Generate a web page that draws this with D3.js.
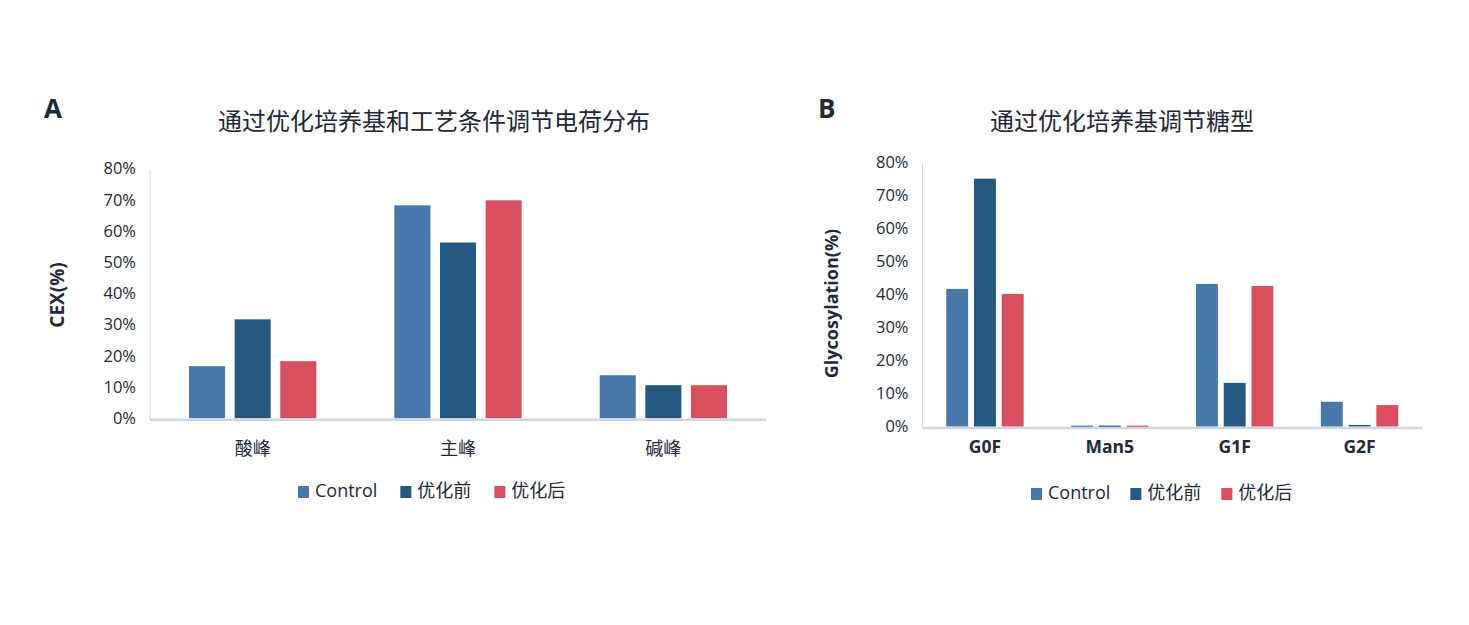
<!DOCTYPE html>
<html>
<head>
<meta charset="utf-8">
<script src="https://cdn.jsdelivr.net/npm/d3@7"></script>
<style>
  body { margin: 0; background: #fff; }
  text { font-family: "Open Sans", "Noto Sans CJK SC", sans-serif; fill: #232838; }
</style>
</head>
<body>
<div id="chart-area"></div>
<script>
// SERIES + COLOURS
var seriesNames = ["Control", "优化前", "优化后"];
var seriesColors = ["#4678aa", "#245881", "#d84f5f"];

// PANEL A - CHARGE VARIANTS (CEX %)
var chargeCategories = ["酸峰", "主峰", "碱峰"];
var chargeControl = [16.7, 68.2, 13.8];
var chargeBefore = [31.7, 56.3, 10.6];
var chargeAfter = [18.3, 69.8, 10.6];

// PANEL B - GLYCOSYLATION %
var glycanCategories = ["G0F", "Man5", "G1F", "G2F"];
var glycanControl = [41.6, 0.3, 43.1, 7.5];
var glycanBefore = [74.9, 0.3, 13.2, 0.5];
var glycanAfter = [40.1, 0.3, 42.5, 6.5];

var yTicks = [0, 10, 20, 30, 40, 50, 60, 70, 80];

var svg = d3.select("#chart-area")
    .append("svg")
    .attr("width", 1469)
    .attr("height", 625);

function drawPanel(opt) {
    var g = svg.append("g");

    var x = d3.scaleBand()
        .domain(opt.categories)
        .range([opt.left, opt.right])
        .padding(0);

    var groupW = x.bandwidth() * 0.62;
    var xs = d3.scaleBand()
        .domain(seriesNames)
        .range([-groupW / 2, groupW / 2])
        .paddingInner(0.21)
        .paddingOuter(0);

    var y = d3.scaleLinear()
        .domain([0, 80])
        .range([opt.bottom, opt.top]);

    // Y AXIS (labels only)
    var yAxis = g.append("g")
        .attr("transform", "translate(" + (opt.left - 14) + ",0)")
        .call(d3.axisLeft(y).tickValues(yTicks).tickSize(0).tickPadding(0)
            .tickFormat(function (d) { return d + "%"; }));
    yAxis.select(".domain").remove();
    yAxis.selectAll("text")
        .attr("font-size", opt.tickSize + "px")
        .attr("font-family", null);

    // left thin line
    g.append("line")
        .attr("x1", opt.left).attr("x2", opt.left)
        .attr("y1", opt.top + 1).attr("y2", opt.bottom + 1)
        .attr("stroke", "#d9d9d9")
        .attr("stroke-width", 1);

    // BARS
    var rows = opt.categories.map(function (c, i) {
        return { cat: c, values: opt.series.map(function (s, j) { return { name: seriesNames[j], v: s[i] }; }) };
    });

    var groups = g.selectAll(".grp")
        .data(rows)
        .enter().append("g")
        .attr("transform", function (d) { return "translate(" + (x(d.cat) + x.bandwidth() / 2) + ",0)"; });

    groups.selectAll("rect")
        .data(function (d) { return d.values; })
        .enter().append("rect")
        .attr("x", function (d) { return xs(d.name); })
        .attr("width", xs.bandwidth())
        .attr("y", function (d) { return y(d.v); })
        .attr("height", function (d) { return Math.max(1.5, y(0) - y(d.v)); })
        .attr("fill", function (d, i) { return seriesColors[i]; });

    // bottom axis line
    g.append("line")
        .attr("x1", opt.left).attr("x2", opt.right)
        .attr("y1", opt.bottom + 1.5).attr("y2", opt.bottom + 1.5)
        .attr("stroke", "#cfd5e4")
        .attr("stroke-width", 2.5);

    // X AXIS (labels only)
    var xAxis = g.append("g")
        .attr("transform", "translate(0," + opt.bottom + ")")
        .call(d3.axisBottom(x).tickSize(0).tickPadding(opt.catPad));
    xAxis.select(".domain").remove();
    xAxis.selectAll("text")
        .attr("font-size", opt.catSize + "px")
        .attr("font-weight", opt.catWeight)
        .attr("font-family", null);

    // TITLE
    g.append("text")
        .attr("x", opt.titleX)
        .attr("y", 124)
        .attr("text-anchor", "middle")
        .attr("dominant-baseline", "middle")
        .attr("font-size", "24px")
        .text(opt.title);

    // PANEL LETTER
    g.append("text")
        .attr("x", opt.letterX)
        .attr("y", 118)
        .attr("font-size", "26px")
        .attr("font-weight", "bold")
        .text(opt.letter);

    // Y LABEL
    g.append("text")
        .attr("transform", "translate(" + opt.yLabelX + "," + opt.yLabelY + ") rotate(-90)")
        .attr("text-anchor", "middle")
        .attr("dominant-baseline", "middle")
        .attr("font-size", opt.yLabelSize + "px")
        .attr("font-weight", "bold")
        .text(opt.yLabel);

    // LEGEND
    var lx = opt.legendX;
    seriesNames.forEach(function (name, i) {
        g.append("rect")
            .attr("x", lx)
            .attr("y", opt.legendY - 6)
            .attr("width", 11)
            .attr("height", 12)
            .attr("fill", seriesColors[i]);
        var t = g.append("text")
            .attr("x", lx + 17)
            .attr("y", opt.legendY)
            .attr("dominant-baseline", "middle")
            .attr("font-size", "18px")
            .text(name);
        lx = lx + 17 + t.node().getComputedTextLength() + opt.legendGap;
    });
}

drawPanel({
    categories: chargeCategories,
    series: [chargeControl, chargeBefore, chargeAfter],
    left: 150, right: 766, top: 168.5, bottom: 418.3,
    tickSize: 16.5, catSize: 18, catWeight: "normal", catPad: 24,
    title: "通过优化培养基和工艺条件调节电荷分布", titleX: 434,
    letter: "A", letterX: 44,
    yLabel: "CEX(%)", yLabelX: 59, yLabelY: 295, yLabelSize: 19,
    legendX: 298, legendY: 492, legendGap: 23
});

drawPanel({
    categories: glycanCategories,
    series: [glycanControl, glycanBefore, glycanAfter],
    left: 922.5, right: 1422, top: 161.8, bottom: 426.6,
    tickSize: 16.5, catSize: 17.5, catWeight: "bold", catPad: 14,
    title: "通过优化培养基调节糖型", titleX: 1122,
    letter: "B", letterX: 818,
    yLabel: "Glycosylation(%)", yLabelX: 833, yLabelY: 303.5, yLabelSize: 18,
    legendX: 1031, legendY: 494, legendGap: 20
});
</script>
</body>
</html>
